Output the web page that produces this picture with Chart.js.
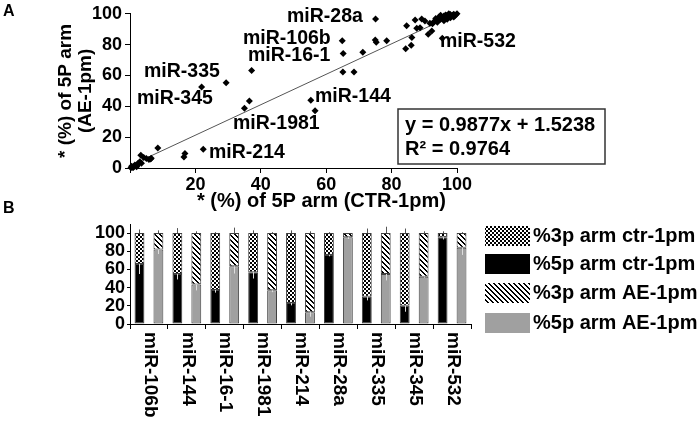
<!DOCTYPE html>
<html>
<head>
<meta charset="utf-8">
<script src="https://cdn.jsdelivr.net/npm/chart.js@4.4.1/dist/chart.umd.min.js"></script>
<style>
html,body{margin:0;padding:0;background:#fff;}
#wrap{position:relative;width:700px;height:424px;overflow:hidden;background:#fff;}
#wrap canvas{position:absolute;left:0;top:0;}
</style>
</head>
<body>
<div id="wrap">
<canvas id="scatter" width="700" height="424"></canvas>
<canvas id="bars" width="700" height="424"></canvas>
</div>
<script>
// ---------------- Panel A data ----------------
const scatterX = [0.3,0.8,1.0,0.5,1.2,1.5,2.0,2.2,2.5,3.0,
  3.3,3.5,4.2,5.0,5.8,6.3,6.5,8.5,16.5,16.8,
  22.4,21.9,29.4,35.0,36.5,37.2,55.3,56.6,64.9,65.2,
  65.1,68.5,71.2,75.0,75.3,78.5,75.1,84.3,86.0,86.2,
  84.6,87.2,87.7,88.7,89.2,90.2,91.2,92.3,91.7,95.5,
  92.5,93,93.5,94,94.5,95,95.5,96,96.5,97,
  97.5,98,98.5,99,99.5,100,96,97,98,99,
  94,95,97.5,96.5,98.8];
const scatterY = [0.2,0.5,0.4,1.2,1.0,2.0,0.8,1.5,3.0,4.0,
  8.2,3.0,6.8,6.2,5.5,5.8,6.4,13.0,7.2,9.4,
  12.2,52.6,55.3,38.7,43.4,63.3,44.0,37.2,82.5,74.3,
  62.2,62.3,75.1,83.0,81.5,82.5,96.6,77.3,79.6,84.6,
  92.3,96.0,90.6,91.0,96.6,95.3,86.7,88.9,93.8,84.2,
  93.5,95,97,96,98,96.5,97.5,98.5,97,99,
  98,99.5,98.5,99.7,99,100,95.5,96.5,97.5,98,
  94.5,99,100,99.3,99.2];
const trendSlope = 0.9877;
const trendIntercept = 1.5238;
const trendR2 = 0.9764;
const trendXRange = [0.3, 100];
const scatterTicks = [0, 20, 40, 60, 80, 100];
const pointNames = ['miR-28a','miR-106b','miR-16-1','miR-335','miR-345','miR-144','miR-1981','miR-214','miR-532'];
const scatterXTitle = '* (%) of 5P arm (CTR-1pm)';
const scatterYTitle = ['* (%) of 5P arm', '(AE-1pm)'];

// ---------------- Panel B data ----------------
const categories = ['miR-106b','miR-144','miR-16-1','miR-1981','miR-214','miR-28a','miR-335','miR-345','miR-532'];
const ctr5p = [66, 55, 37.5, 57, 23, 76, 30, 20, 95.5];
const ctr3p = [34, 45, 62.5, 43, 77, 24, 70, 80, 4.5];
const ae5p  = [82, 43.5, 63.5, 37, 13, 95.5, 55, 52, 84];
const ae3p  = [18, 56.5, 36.5, 63, 87, 4.5, 45, 48, 16];
const ctr5pErr = [11, 6, 3, 7, 2.5, 1.5, 4, 6.5, 2.5];
const ctr3pErr = [4, 5.5, 1, 3, 3, 1, 5, 5, 2];
const ae5pErr  = [5, 6.5, 8, 2, 5, 2, 7, 1, 8];
const ae3pErr  = [3, 2, 6, 1, 2, 0, 7, 2, 1];
const barTicks = [0, 20, 40, 60, 80, 100];
const seriesNames = ['%3p arm ctr-1pm','%5p arm ctr-1pm','%3p arm AE-1pm','%5p arm AE-1pm'];

// ---------------- layout / style ----------------
const FAMILY = "'Liberation Sans', Arial, Helvetica, sans-serif";
Chart.defaults.font.family = FAMILY;
Chart.defaults.font.weight = 'bold';
Chart.defaults.color = '#000';

const labelPos = [[287,17],[243,39],[248,56],[144,72],[137,99],[315,97],[233,124],[209,153],[440,42]];
const eqBox = {x:398, y:109, w:207, h:55, tx:405, l1:125, l2:149};
const legendLayout = {x:485, w:45, h:20, tx:533, ys:[236,264,293,323], order:[1,0,3,2]};

function makeChecker(){
  const c = document.createElement('canvas'); c.width = 4; c.height = 4;
  const g = c.getContext('2d');
  g.fillStyle = '#fff'; g.fillRect(0,0,4,4);
  g.fillStyle = '#000'; g.fillRect(0,0,2,2); g.fillRect(2,2,2,2);
  return g.createPattern(c, 'repeat');
}
function makeStripes(){
  const s = 5, w = 2;
  const c = document.createElement('canvas'); c.width = s; c.height = s;
  const g = c.getContext('2d');
  g.fillStyle = '#fff'; g.fillRect(0,0,s,s);
  g.fillStyle = '#000';
  for (let y = 0; y < s; y++) for (let x = 0; x < s; x++) {
    if ((((x - y) % s) + s) % s < w) g.fillRect(x, y, 1, 1);
  }
  return g.createPattern(c, 'repeat');
}
const checker = makeChecker();
const stripes = makeStripes();

// ---------------- Panel A ----------------
const scatterExtras = {
  id: 'scatterExtras',
  afterDraw(chart) {
    const ctx = chart.ctx;
    ctx.save();
    ctx.fillStyle = '#000';
    ctx.textAlign = 'left';
    ctx.textBaseline = 'middle';
    ctx.font = 'bold 19.5px ' + FAMILY;
    pointNames.forEach((n, i) => ctx.fillText(n, labelPos[i][0], labelPos[i][1]));
    // equation box
    ctx.fillStyle = '#fff';
    ctx.fillRect(eqBox.x, eqBox.y, eqBox.w, eqBox.h);
    ctx.strokeStyle = '#333';
    ctx.lineWidth = 1.5;
    ctx.strokeRect(eqBox.x, eqBox.y, eqBox.w, eqBox.h);
    ctx.fillStyle = '#000';
    ctx.font = 'bold 20px ' + FAMILY;
    ctx.fillText('y = ' + trendSlope + 'x + ' + trendIntercept, eqBox.tx, eqBox.l1);
    ctx.fillText('R\u00B2 = ' + trendR2, eqBox.tx, eqBox.l2);
    // panel letters
    ctx.font = 'bold 16px ' + FAMILY;
    ctx.fillText('A', 3, 12);
    ctx.fillText('B', 3, 209);
    ctx.restore();
  }
};

new Chart(document.getElementById('scatter'), {
  type: 'scatter',
  data: {
    datasets: [
      {
        data: scatterX.map((x, i) => ({x: x, y: scatterY[i]})),
        pointStyle: 'rectRot', pointRadius: 3.5, borderWidth: 0,
        backgroundColor: '#000', borderColor: '#000', clip: false, order: 0
      },
      {
        type: 'line',
        data: trendXRange.map(x => ({x: x, y: trendSlope * x + trendIntercept})),
        borderColor: '#555', borderWidth: 1, pointRadius: 0, fill: false, order: 1, clip: false
      }
    ]
  },
  options: {
    responsive: false, animation: false, events: [],
    layout: {padding: {left: 0, top: 12, right: 243, bottom: 210}},
    plugins: {legend: {display: false}, tooltip: {enabled: false}},
    scales: {
      x: {
        type: 'linear', min: 0, max: 100,
        afterFit(s) { s.height = 46; },
        afterBuildTicks(s) { s.ticks = scatterTicks.map(v => ({value: v})); },
        ticks: {font: {size: 18, weight: 'bold'}, padding: 1, maxRotation: 0, autoSkip: false, color: '#000',
                callback: v => (v === 0 ? '' : v)},
        grid: {drawOnChartArea: false, drawTicks: true, tickLength: 5, color: '#000'},
        border: {display: true, color: '#000', width: 1},
        title: {display: true, text: scatterXTitle + '\u00A0\u00A0', align: 'end', color: '#000',
                font: {size: 20, weight: 'bold', lineHeight: 1.2}, padding: {top: 0, bottom: 1}}
      },
      y: {
        type: 'linear', min: 0, max: 100,
        afterFit(s) { s.width = 130; },
        afterBuildTicks(s) { s.ticks = scatterTicks.map(v => ({value: v})); },
        ticks: {font: {size: 18, weight: 'bold'}, padding: 3, autoSkip: false, color: '#000'},
        grid: {drawOnChartArea: false, drawTicks: true, tickLength: 5, color: '#000'},
        border: {display: true, color: '#000', width: 1},
        title: {display: true, text: scatterYTitle, color: '#000',
                font: {size: 19, weight: 'bold', lineHeight: '20px'}, padding: {top: 56, bottom: 0}}
      }
    }
  },
  plugins: [scatterExtras]
});

// ---------------- Panel B ----------------
const errByDataset = [ctr5pErr, ctr3pErr, ae5pErr, ae3pErr];
const barExtras = {
  id: 'barExtras',
  afterDatasetsDraw(chart) {
    const ctx = chart.ctx;
    const ys = chart.scales.y;
    const unit = ys.getPixelForValue(0) - ys.getPixelForValue(1);
    ctx.save();
    ctx.lineWidth = 1;
    chart.data.datasets.forEach((ds, di) => {
      const meta = chart.getDatasetMeta(di);
      const errs = errByDataset[di];
      const upper = (di % 2 === 1);
      meta.data.forEach((el, i) => {
        const e = errs[i];
        if (!e) return;
        const x = Math.round(el.x) + 0.5;
        ctx.beginPath();
        if (upper) {
          ctx.strokeStyle = '#555';
          ctx.moveTo(x, el.y);
          ctx.lineTo(x, el.y - e * unit);
        } else {
          ctx.strokeStyle = '#ddd';
          ctx.moveTo(x, el.y);
          ctx.lineTo(x, el.y + e * unit);
        }
        ctx.stroke();
      });
    });
    ctx.restore();
  },
  afterDraw(chart) {
    const ctx = chart.ctx;
    const xs = chart.scales.x;
    ctx.save();
    ctx.fillStyle = '#000';
    ctx.font = 'bold 19px ' + FAMILY;
    ctx.textAlign = 'left';
    ctx.textBaseline = 'middle';
    chart.data.labels.forEach((lab, i) => {
      const cx = xs.getPixelForValue(i);
      ctx.save();
      ctx.translate(cx + 1, xs.top + 8);
      ctx.rotate(Math.PI / 2);
      ctx.fillText(lab, 0, 0);
      ctx.restore();
    });
    // legend
    ctx.font = 'bold 20px ' + FAMILY;
    legendLayout.order.forEach((di, k) => {
      const ds = chart.data.datasets[di];
      const cy = legendLayout.ys[k];
      ctx.fillStyle = ds.backgroundColor;
      ctx.fillRect(legendLayout.x, cy - legendLayout.h / 2, legendLayout.w, legendLayout.h);
      ctx.fillStyle = '#000';
      ctx.fillText(ds.label, legendLayout.tx, cy);
    });
    ctx.restore();
  }
};

new Chart(document.getElementById('bars'), {
  type: 'bar',
  data: {
    labels: categories,
    datasets: [
      {label: seriesNames[1], data: ctr5p, stack: 'ctr', backgroundColor: '#000'},
      {label: seriesNames[0], data: ctr3p, stack: 'ctr', backgroundColor: checker},
      {label: seriesNames[3], data: ae5p, stack: 'ae', backgroundColor: '#a0a0a0'},
      {label: seriesNames[2], data: ae3p, stack: 'ae', backgroundColor: stripes}
    ]
  },
  options: {
    responsive: false, animation: false, events: [],
    datasets: {bar: {categoryPercentage: 1.0, barPercentage: 0.52, borderWidth: 1,
                     borderColor: '#404040', borderSkipped: false}},
    layout: {padding: {left: 0, top: 224, right: 229, bottom: 90}},
    plugins: {legend: {display: false}, tooltip: {enabled: false}},
    scales: {
      x: {
        stacked: true,
        afterFit(s) { s.height = 10; },
        ticks: {display: false},
        grid: {offset: true, drawOnChartArea: false, drawTicks: true, tickLength: 5, color: '#000'},
        border: {display: true, color: '#000', width: 1}
      },
      y: {
        stacked: true, min: 0, max: 110,
        afterFit(s) { s.width = 130; },
        afterBuildTicks(s) { s.ticks = barTicks.map(v => ({value: v})); },
        ticks: {font: {size: 18, weight: 'bold'}, padding: 2, autoSkip: false, color: '#000'},
        grid: {drawOnChartArea: false, drawTicks: true, tickLength: 3, color: '#000'},
        border: {display: true, color: '#000', width: 1}
      }
    }
  },
  plugins: [barExtras]
});
</script>
</body>
</html>
